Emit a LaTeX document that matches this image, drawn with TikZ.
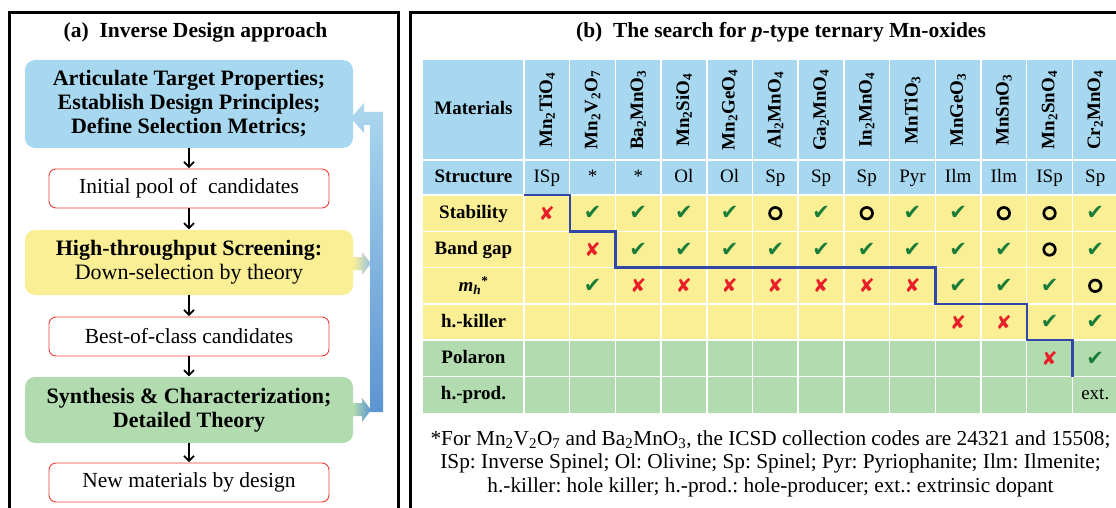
\documentclass[tikz,border=0pt]{standalone}
\usepackage{fontspec}
\setmainfont{Liberation Serif}
\newfontfamily\symf{DejaVu Sans}
\usetikzlibrary{arrows.meta}
\definecolor{cblue}{RGB}{168,216,240}
\definecolor{cyel}{RGB}{251,239,150}
\definecolor{cgreen}{RGB}{178,220,176}
\definecolor{cred}{RGB}{235,65,55}
\definecolor{cline}{RGB}{50,72,168}
\definecolor{cchk}{RGB}{25,125,55}
\definecolor{cx}{RGB}{232,30,40}
\definecolor{barTop}{RGB}{172,215,238}
\definecolor{barBot}{RGB}{92,148,210}
\newcommand\mtc{✔}
\newcommand\mtx{✘}
\newcommand\mto{}
\newcommand\mtn{}
\frenchspacing
\tikzset{
  ttl/.style={font=\fontsize{21.5}{24}\selectfont\bfseries, inner sep=0pt},
  bigbox/.style={rounded corners=10pt, minimum width=328pt, align=center, inner sep=0pt,
     font=\fontsize{22}{24}\selectfont},
  smallbox/.style={draw=cred, line width=0.9pt, fill=white, rounded corners=7pt,
     minimum width=280pt, minimum height=39pt, inner sep=0pt, font=\fontsize{21.5}{24}\selectfont},
  arr/.style={-{Straight Barb[length=5pt,width=10pt]}, line width=1.8pt, shorten >=0.5pt},
  tb/.style={font=\fontsize{19}{22}\selectfont\bfseries, inner sep=0pt},
  tr/.style={font=\fontsize{19}{22}\selectfont, inner sep=0pt},
  cellt/.style={text height=13pt, text depth=3pt},
  mkc/.style={font=\symf\fontsize{21}{21}\selectfont, text=cchk, inner sep=0pt},
  mkx/.style={font=\symf\fontsize{19}{19}\selectfont, text=cx, inner sep=0pt},
  mko/.style={circle, draw=black, line width=2.7pt, minimum size=11.5pt, inner sep=0pt},
  mkn/.style={inner sep=0pt},
  grid/.style={white, line width=1.5pt},
  stair/.style={cline, line width=2.4pt},
  panel/.style={line width=2.6pt, draw=black}
}
\begin{document}
\begin{tikzpicture}[x=1pt,y=-1pt]
\useasboundingbox (0,0) rectangle (1116,508);
\clip (0,0) rectangle (1116,508);
\fill[white] (0,0) rectangle (1116,508);
% panels
\draw[panel] (9.5,12.5) rectangle (398.5,540);
\draw[panel] (410.5,12.5) rectangle (1140,540);
% ---------- panel (a)
\node[ttl] (ta) at (195.5,32) {(a)\ \ Inverse Design approach};
\node[bigbox, fill=cblue, minimum height=88pt, font=\fontsize{22}{24}\selectfont\bfseries] (b1) at (189,104)
  {Articulate Target Properties;\\Establish Design Principles;\\Define Selection Metrics;};
\node[smallbox] (p1) at (189,188.5) {Initial pool of \ candidates};
\node[bigbox, fill=cyel, minimum height=65pt] (b2) at (189,262.5)
  {\textbf{High-throughput Screening:}\\Down-selection by theory};
\node[smallbox] (p2) at (189,336.5) {Best-of-class candidates};
\node[bigbox, fill=cgreen, minimum height=66pt, font=\fontsize{22}{24}\selectfont\bfseries] (b3) at (189,410)
  {Synthesis \& Characterization;\\Detailed Theory};
\node[smallbox] (p3) at (189,482.5) {New materials by design};
\draw[arr] (b1.south) -- (p1.north);
\draw[arr] (p1.south) -- (b2.north);
\draw[arr] (b2.south) -- (p2.north);
\draw[arr] (p2.south) -- (b3.north);
\draw[arr] (b3.south) -- (p3.north);
% feedback arrows
\shade[top color=barTop, bottom color=barBot]
  (383,412) -- (383,112) -- (364,112) -- (364,103) -- (351,118) -- (364,133)
  -- (364,125) -- (370,125) -- (370,412) -- cycle;
\shade[left color=cyel, right color=barTop!70!barBot]
  (353,257) -- (362,257) -- (362,252) -- (371,263.5) -- (362,275) -- (362,270) -- (353,270) -- cycle;
\shade[left color=cgreen, right color=barBot]
  (353,403) -- (362,403) -- (362,398) -- (371,410) -- (362,422) -- (362,416) -- (353,416) -- cycle;
% ---------- panel (b)
\node[ttl] (tbt) at (781,32) {(b)\ \ The search for \textit{p}-type ternary Mn-oxides};
\fill[cblue] (423,60) rectangle (1120,195);
\fill[cyel] (423,195) rectangle (1120,340.2);
\fill[cgreen] (423,340.2) rectangle (1120,412.8);
\foreach \k in {0,...,13} \draw[grid] ({524+45.7*\k},60) -- ({524+45.7*\k},412.8);
\foreach \yy in {160,195,231.3,267.6,303.9,340.2,376.5} \draw[grid] (423,\yy) -- (1120,\yy);
% row labels
\node[tb, cellt] (lmat) at (473.5,110) {Materials};
\node[tb, cellt] (lstr) at (473.5,177.5) {Structure};
\node[tb, cellt] (lsta) at (473.5,213.2) {Stability};
\node[tb, cellt] (lbg) at (473.5,249.5) {Band gap};
\node[tb] (lmh) at (473.5,285.8) {\textit{m}\textsubscript{\textit{h}}\textsuperscript{*}};
\node[tb, cellt] (lhk) at (473.5,322) {h.-killer};
\node[tb, cellt] (lpol) at (473.5,358.4) {Polaron};
\node[tb, cellt] (lhp) at (473.5,394.7) {h.-prod.};
% material names
\foreach \m [count=\k] in {Mn\textsubscript{2}TiO\textsubscript{4},
  Mn\textsubscript{2}V\textsubscript{2}O\textsubscript{7},
  Ba\textsubscript{2}MnO\textsubscript{3},
  Mn\textsubscript{2}SiO\textsubscript{4},
  Mn\textsubscript{2}GeO\textsubscript{4},
  Al\textsubscript{2}MnO\textsubscript{4},
  Ga\textsubscript{2}MnO\textsubscript{4},
  In\textsubscript{2}MnO\textsubscript{4},
  MnTiO\textsubscript{3},
  MnGeO\textsubscript{3},
  MnSnO\textsubscript{3},
  Mn\textsubscript{2}SnO\textsubscript{4},
  Cr\textsubscript{2}MnO\textsubscript{4}}
  \node[tb, rotate=90] (mat\k) at ({524+45.7*(\k-0.5)},110) {\m};
% structures
\foreach \s [count=\k] in {ISp,*,*,Ol,Ol,Sp,Sp,Sp,Pyr,Ilm,Ilm,ISp,Sp}
  \node[tr, cellt] (str\k) at ({524+45.7*(\k-0.5)},177.5) {\s};
% marks
\foreach \s [count=\k] in {x,c,c,c,c,o,c,o,c,c,o,o,c}
  \node[mk\s] (sta\k) at ({524+45.7*(\k-0.5)},213.2) {\csname mt\s\endcsname};
\foreach \s [count=\k] in {n,x,c,c,c,c,c,c,c,c,c,o,c}
  \node[mk\s] (bg\k) at ({524+45.7*(\k-0.5)},249.5) {\csname mt\s\endcsname};
\foreach \s [count=\k] in {n,c,x,x,x,x,x,x,x,c,c,c,o}
  \node[mk\s] (mh\k) at ({524+45.7*(\k-0.5)},285.8) {\csname mt\s\endcsname};
\foreach \s [count=\k] in {n,n,n,n,n,n,n,n,n,x,x,c,c}
  \node[mk\s] (hk\k) at ({524+45.7*(\k-0.5)},322) {\csname mt\s\endcsname};
\foreach \s [count=\k] in {n,n,n,n,n,n,n,n,n,n,n,x,c}
  \node[mk\s] (pol\k) at ({524+45.7*(\k-0.5)},358.4) {\csname mt\s\endcsname};
\node[tr, cellt] (hp13) at ({524+45.7*12.5},394.7) {ext.};
% staircase
\draw[stair] (524,195) -- (569.7,195) -- (569.7,231.3) -- (615.4,231.3) -- (615.4,267.6)
  -- (935.3,267.6) -- (935.3,303.9) -- (1026.7,303.9) -- (1026.7,340.2) -- (1072.4,340.2) -- (1072.4,376.5);
% footnote
\node[align=center, inner sep=0pt, font=\fontsize{21.3}{23.5}\selectfont] (fn) at (770.5,463.5)
  {*For Mn\textsubscript{2}V\textsubscript{2}O\textsubscript{7} and Ba\textsubscript{2}MnO\textsubscript{3}, the ICSD collection codes are 24321 and 15508;\\
   ISp: Inverse Spinel; Ol: Olivine; Sp: Spinel; Pyr: Pyriophanite; Ilm: Ilmenite;\\
   h.-killer: hole killer; h.-prod.: hole-producer; ext.: extrinsic dopant};
\end{tikzpicture}
\end{document}
